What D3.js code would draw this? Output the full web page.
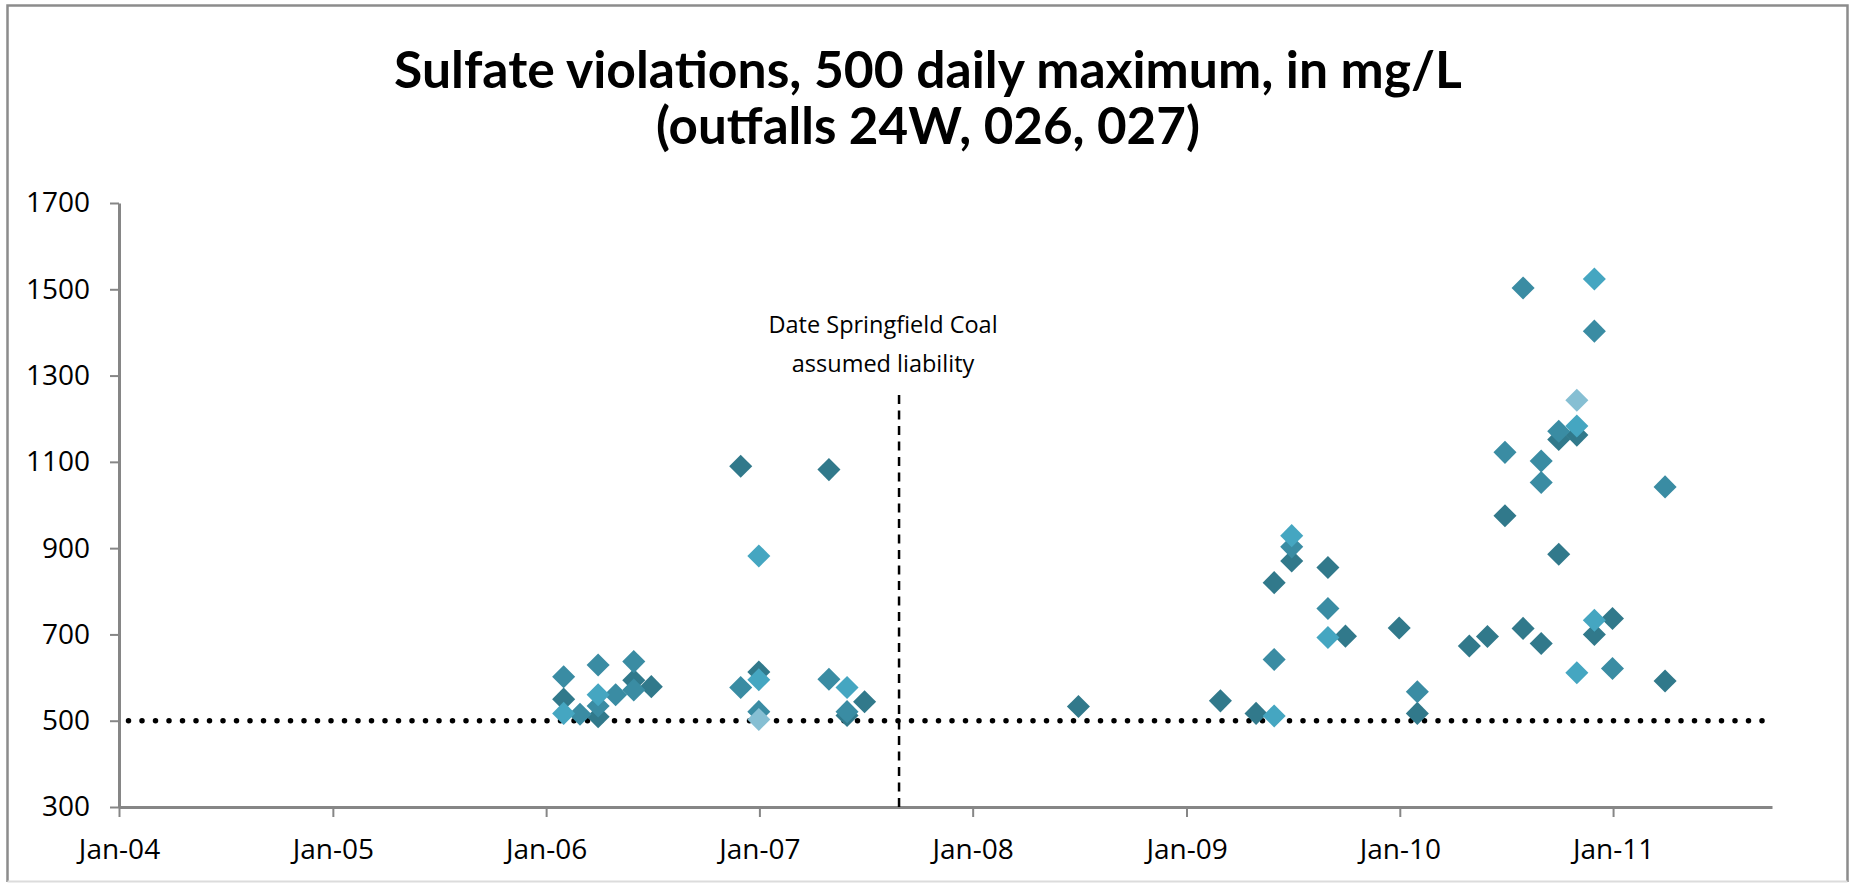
<!DOCTYPE html>
<html>
<head>
<meta charset="utf-8">
<script src="https://cdn.jsdelivr.net/npm/d3@7"></script>
<style>
  html, body { margin: 0; padding: 0; background: #fff; }
  svg { display: block; }
</style>
</head>
<body>
<div id="chart"></div>
<script>
// ---- data ----
const titleLines = ["Sulfate violations, 500 daily maximum, in mg/L", "(outfalls 24W, 026, 027)"];
const yTickValues = [300, 500, 700, 900, 1100, 1300, 1500, 1700];
const xTickDates = ["2004-01-01", "2005-01-01", "2006-01-01", "2007-01-01",
                    "2008-01-01", "2009-01-01", "2010-01-01", "2011-01-01"];
const xDomain = ["2004-01-01", "2011-09-30"];
const yDomain = [300, 1700];
const limitValue = 500;
const eventDate = "2007-08-28";
const eventTopValue = 1255;
const eventLabel = ["Date Springfield Coal", "assumed liability"];

// one array per marker shade: [date, mg/L]
const seriesDark = [
  ["2006-01-31", 550], ["2006-03-31", 509], ["2006-05-31", 594], ["2006-06-30", 579],
  ["2006-11-30", 1090], ["2006-12-31", 613], ["2007-04-30", 1082], ["2007-05-31", 512],
  ["2007-06-30", 544], ["2008-06-30", 533], ["2009-02-28", 546], ["2009-04-30", 517],
  ["2009-05-31", 820], ["2009-06-30", 870], ["2009-08-31", 855], ["2009-09-30", 696],
  ["2009-12-31", 715], ["2010-01-31", 517], ["2010-04-30", 673], ["2010-05-31", 695],
  ["2010-06-30", 975], ["2010-07-31", 714], ["2010-08-31", 679], ["2010-09-30", 886],
  ["2010-09-30", 1152], ["2010-10-31", 1162], ["2010-11-30", 700], ["2010-12-31", 737],
  ["2011-03-31", 592]
];
const seriesMid = [
  ["2006-01-31", 602], ["2006-02-28", 515], ["2006-03-31", 629], ["2006-03-31", 534],
  ["2006-04-30", 560], ["2006-05-31", 637], ["2006-05-31", 571], ["2006-11-30", 577],
  ["2006-12-31", 521], ["2007-04-30", 596], ["2007-05-31", 521], ["2009-05-31", 642],
  ["2009-06-30", 903], ["2009-08-31", 760], ["2010-01-31", 567], ["2010-06-30", 1122],
  ["2010-07-31", 1503], ["2010-08-31", 1102], ["2010-08-31", 1052], ["2010-09-30", 1171],
  ["2010-11-30", 1403], ["2010-12-31", 621], ["2011-03-31", 1042]
];
const seriesLight = [
  ["2006-01-31", 517], ["2006-03-31", 560], ["2006-12-31", 595], ["2006-12-31", 882],
  ["2007-05-31", 577], ["2009-05-31", 511], ["2009-06-30", 929], ["2009-08-31", 693],
  ["2010-10-31", 1183], ["2010-11-30", 1524], ["2010-11-30", 733], ["2010-10-31", 611]
];
const seriesPale = [
  ["2006-12-31", 503], ["2010-10-31", 1243]
];

const seriesList = [seriesDark, seriesMid, seriesLight, seriesPale];
const seriesColors = ["#31798b", "#3a8ca3", "#45a6c1", "#86bfd3"];

// ---- layout ----
const W = 1855, H = 883;
const plot = {left: 119, right: 1772, top: 203, bottom: 807};
const axisColor = "#868686";
const labelFont = "'Open Sans', sans-serif";
const parseDate = d3.utcParse("%Y-%m-%d");

const svg = d3.select("#chart").append("svg")
  .attr("width", W)
  .attr("height", H);

// chart border
svg.append("path")
  .attr("d", `M7.5,${H - 1} V5.5 H1847.5 V${H - 1}`)
  .attr("fill", "none")
  .attr("stroke", "#8c8c8c")
  .attr("stroke-width", 2.5);
svg.append("line")
  .attr("x1", 7.5).attr("x2", 1847.5)
  .attr("y1", H - 1.5).attr("y2", H - 1.5)
  .attr("stroke", "#dcdcdc")
  .attr("stroke-width", 2);

const x = d3.scaleUtc()
  .domain(xDomain.map(parseDate))
  .range([plot.left, plot.right]);

const y = d3.scaleLinear()
  .domain(yDomain)
  .range([plot.bottom, plot.top]);

// title, fitted to the reference widths
function fitWidth(sel, target) {
  const w = sel.node().getComputedTextLength();
  sel.attr("font-size", parseFloat(sel.attr("font-size")) * target / w);
}
const titleWidths = [1068, 544];
const titleBaselines = [88, 144];
titleLines.forEach((t, i) => {
  const el = svg.append("text")
    .attr("x", 928)
    .attr("y", titleBaselines[i])
    .attr("text-anchor", "middle")
    .attr("font-family", "Lato, 'Open Sans', sans-serif")
    .attr("font-weight", "bold")
    .attr("font-size", 50)
    .attr("fill", "#000")
    .text(t);
  fitWidth(el, titleWidths[i]);
});

// y axis
const yAxis = svg.append("g")
  .attr("transform", `translate(${plot.left},0)`)
  .call(d3.axisLeft(y)
    .tickValues(yTickValues)
    .tickFormat(d3.format("d"))
    .tickSize(9).tickSizeOuter(0).tickPadding(20));

// x axis
const xAxis = svg.append("g")
  .attr("transform", `translate(0,${plot.bottom})`)
  .call(d3.axisBottom(x)
    .tickValues(xTickDates.map(parseDate))
    .tickFormat(d3.utcFormat("%b-%y"))
    .tickSize(10).tickSizeOuter(0).tickPadding(18));

[yAxis, xAxis].forEach(g => {
  g.attr("font-family", labelFont).attr("font-size", 28);
  g.select(".domain").attr("stroke", axisColor).attr("stroke-width", 3);
  g.selectAll(".tick line").attr("stroke", axisColor).attr("stroke-width", 2);
  g.selectAll(".tick text").attr("fill", "#000");
});
xAxis.selectAll(".tick text").attr("dy", "0.85em");

// 500 mg/L limit, dotted
svg.append("line")
  .attr("x1", plot.left).attr("x2", plot.right)
  .attr("y1", y(limitValue)).attr("y2", y(limitValue))
  .attr("stroke", "#000")
  .attr("stroke-width", 5.5)
  .attr("stroke-linecap", "round")
  .attr("stroke-dasharray", "0 13.5")
  .attr("stroke-dashoffset", 4);

// event marker, dashed
const ex = x(parseDate(eventDate));
svg.append("line")
  .attr("x1", ex).attr("x2", ex)
  .attr("y1", y(eventTopValue)).attr("y2", plot.bottom)
  .attr("stroke", "#000")
  .attr("stroke-width", 2.5)
  .attr("stroke-dasharray", "9 6.5");

svg.append("g")
  .selectAll("text")
  .data(eventLabel)
  .enter().append("text")
    .attr("x", ex - 16)
    .attr("y", (d, i) => y(eventTopValue) - 62 + i * 39)
    .attr("text-anchor", "middle")
    .attr("font-family", labelFont)
    .attr("font-size", 23.5)
    .attr("fill", "#000")
    .text(d => d);

// diamonds
const diamond = d3.symbol(d3.symbolSquare, 266);
seriesList.forEach((s, i) => {
  svg.append("g")
    .selectAll("path")
    .data(s)
    .enter().append("path")
      .attr("d", diamond)
      .attr("transform", d => `translate(${x(parseDate(d[0]))},${y(d[1])}) rotate(45)`)
      .attr("fill", seriesColors[i]);
});
</script>
</body>
</html>
